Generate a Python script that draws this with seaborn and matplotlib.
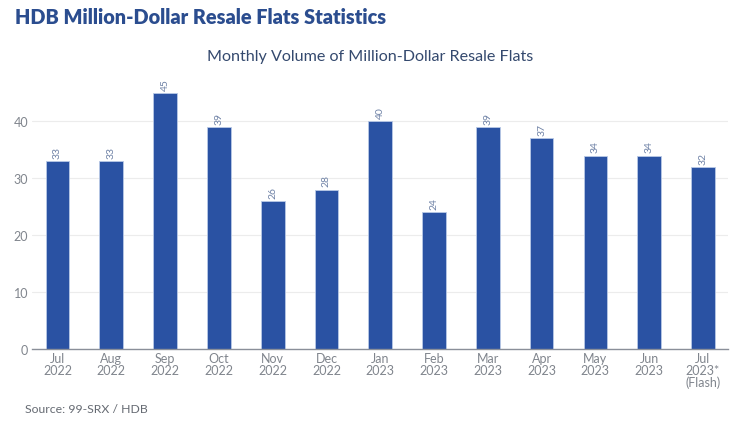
import matplotlib
matplotlib.use("Agg")
import matplotlib.pyplot as plt
import seaborn as sns
import pandas as pd

months = ["Jul\n2022", "Aug\n2022", "Sep\n2022", "Oct\n2022", "Nov\n2022", "Dec\n2022",
          "Jan\n2023", "Feb\n2023", "Mar\n2023", "Apr\n2023", "May\n2023", "Jun\n2023",
          "Jul\n2023*\n(Flash)"]
volumes = [33, 33, 45, 39, 26, 28, 40, 24, 39, 37, 34, 34, 32]

sns.set_theme(style="whitegrid")
plt.rcParams["font.family"] = ["Lato", "DejaVu Sans"]

df = pd.DataFrame({"month": months, "volume": volumes})

fig = plt.figure(figsize=(7.5, 4.27), dpi=100)
ax = fig.add_axes([0.043, 0.18, 0.928, 0.62])

sns.barplot(data=df, x="month", y="volume", color="#2a52a3", width=0.44,
            saturation=1, edgecolor="#b9c9e6", linewidth=0.6, ax=ax)

for i, v in enumerate(volumes):
    ax.text(i, v + 0.6, str(v), rotation=90, ha="center", va="bottom",
            fontsize=7.5, color="#6f82a6")

ax.set_xlim(-0.47, 12.47)
ax.set_ylim(0, 46.5)
ax.set_yticks([0, 10, 20, 30, 40])
ax.set_xlabel("")
ax.set_ylabel("")
ax.grid(axis="x", visible=False)
ax.grid(axis="y", color="#ececec", linewidth=0.8)
for s in ["top", "right", "left"]:
    ax.spines[s].set_visible(False)
ax.spines["bottom"].set_color("#8a8f99")
ax.spines["bottom"].set_linewidth(1)
ax.tick_params(axis="both", labelsize=9, colors="#80858d", length=0, pad=3)
ax.tick_params(axis="x", pad=2)
for lab in ax.get_xticklabels():
    lab.set_linespacing(1.0)

fig.text(0.02, 0.96, "HDB Million-Dollar Resale Flats Statistics", fontsize=14.3,
         fontweight="heavy", color="#2b4d8f", ha="left", va="center")
fig.text(0.493, 0.866, "Monthly Volume of Million-Dollar Resale Flats", fontsize=11.6,
         color="#34496e", ha="center", va="center")
fig.text(0.033, 0.04, "Source: 99-SRX / HDB", fontsize=8.8, color="#666b73",
         ha="left", va="center")

fig.savefig("out.png", dpi=100)
